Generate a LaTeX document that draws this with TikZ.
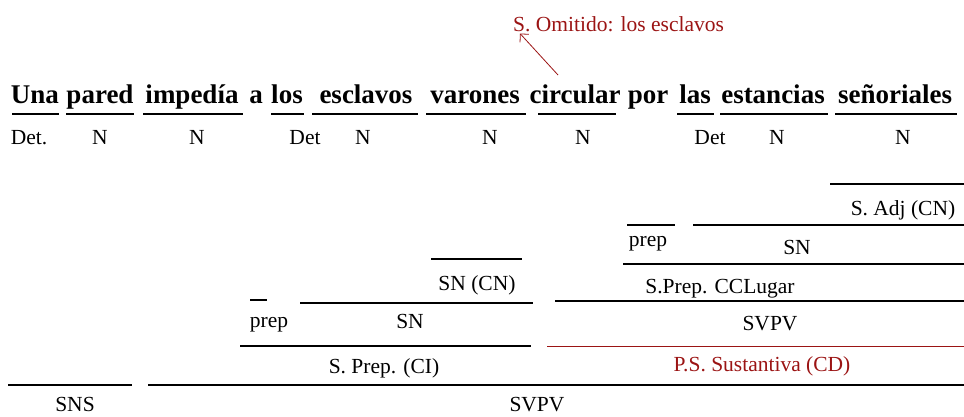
\documentclass[tikz,border=0pt]{standalone}
\usepackage{fontspec}
\usetikzlibrary{arrows.meta}
\setmainfont{Liberation Serif}
\definecolor{dred}{RGB}{155,20,20}
\begin{document}
\begin{tikzpicture}[x=1pt,y=-1pt,
  word/.style={font=\fontsize{27}{27}\selectfont\bfseries, anchor=base, inner sep=0pt},
  lab/.style={font=\fontsize{21.5}{21.5}\selectfont, anchor=base, inner sep=0pt},
  redlab/.style={lab, text=dred},
  uline/.style={line width=1.6pt},
  rule/.style={line width=1.2pt},
  redrule/.style={line width=1pt, draw=dred}]
\useasboundingbox (0,0) rectangle (964,416);
\clip (0,0) rectangle (964,416);
% omitted subject note
\node[redlab, anchor=base west] (omit) at (513,31) {S. Omitido: los esclavos};
\coordinate (omittail) at (558,75);
\draw[dred, line width=0.8pt, -{Straight Barb[length=6pt]}] (omittail) -- ([shift={(7,2)}]omit.south west);
% sentence
\node[word] (w1) at (35,103) {Una};
\node[word] (w2) at (100,103) {pared};
\node[word] (w3) at (192,103) {impedía};
\node[word] (w4) at (256,103) {a};
\node[word] (w5) at (287,103) {los};
\node[word] (w6) at (366,103) {esclavos};
\node[word] (w7) at (475,103) {varones};
\node[word] (w8) at (575,103) {circular};
\node[word] (w9) at (648,103) {por};
\node[word] (w10) at (695,103) {las};
\node[word] (w11) at (773,103) {estancias};
\node[word] (w12) at (895,103) {señoriales};
% underlines
\draw[uline] (12,114) -- (59,114);
\draw[uline] (66,114) -- (134,114);
\draw[uline] (143,114) -- (243,114);
\draw[uline] (271,114) -- (304,114);
\draw[uline] (312,114) -- (418,114);
\draw[uline] (426,114) -- (526,114);
\draw[uline] (538,114) -- (616,114);
\draw[uline] (677,114) -- (714,114);
\draw[uline] (720,114) -- (828,114);
\draw[uline] (835,114) -- (957,114);
% word labels
\node[lab] (l1) at (29,144) {Det.};
\node[lab] (l2) at (100,144) {N};
\node[lab] (l3) at (197,144) {N};
\node[lab] (l4) at (305,144) {Det};
\node[lab] (l5) at (363,144) {N};
\node[lab] (l6) at (490,144) {N};
\node[lab] (l7) at (583,144) {N};
\node[lab] (l8) at (710,144) {Det};
\node[lab] (l9) at (777,144) {N};
\node[lab] (l10) at (903,144) {N};
% left structure (CI)
\draw[rule] (431,259) -- (522,259);
\node[lab] (sncn) at (477,290) {SN (CN)};
\draw[rule] (250,300) -- (267,300);
\draw[rule] (300,303) -- (533,303);
\node[lab] (prepA) at (269,327) {prep};
\node[lab] (snA) at (410,328) {SN};
\draw[rule] (240,346) -- (531,346);
\node[lab] (spci) at (384,373) {S. Prep. (CI)};
% right structure (CD)
\draw[rule] (830,184) -- (964,184);
\node[lab] (sadj) at (903,215) {S. Adj (CN)};
\draw[rule] (627,225) -- (675,225);
\draw[rule] (693,225) -- (964,225);
\node[lab] (prepB) at (648,246) {prep};
\node[lab] (snB) at (797,254) {SN};
\draw[rule] (623,264) -- (964,264);
\node[lab] (ccl) at (720,293) {S.Prep. CCLugar};
\draw[rule] (555,301) -- (964,301);
\node[lab] (svpvB) at (770,330) {SVPV};
\draw[redrule] (547,346) -- (964,346);
\node[redlab] (pss) at (762,371) {P.S. Sustantiva (CD)};
% bottom
\draw[rule] (8,385) -- (132,385);
\draw[rule] (148,385) -- (964,385);
\node[lab] (sns) at (75,411) {SNS};
\node[lab] (svpv) at (537,411) {SVPV};
\end{tikzpicture}
\end{document}
